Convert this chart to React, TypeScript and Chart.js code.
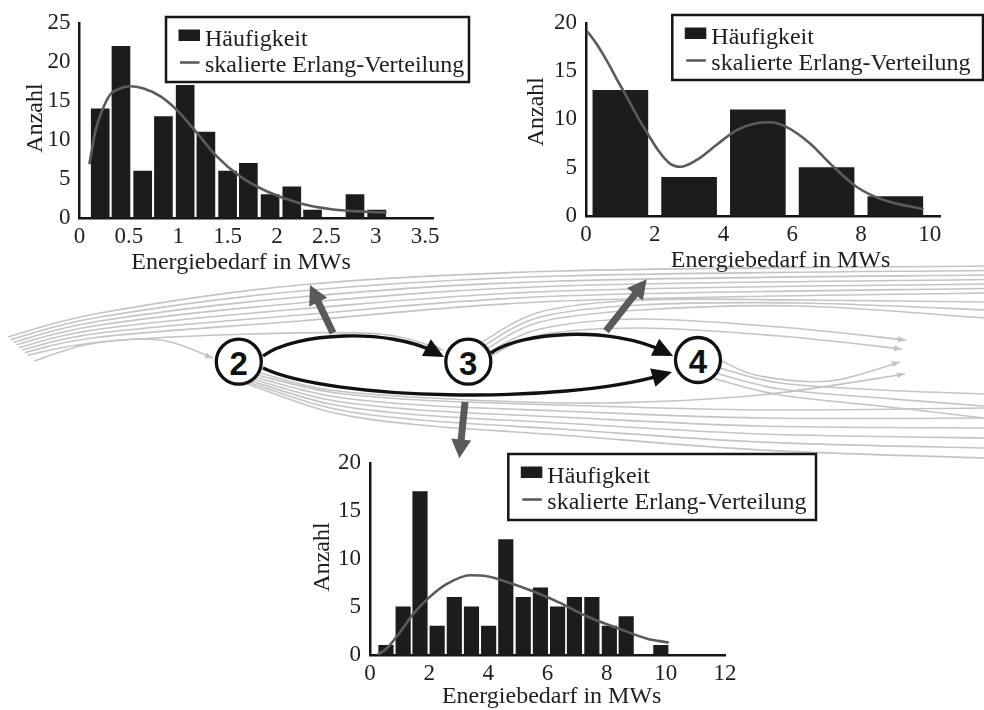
import React, { useEffect, useRef } from "react";
import { Chart, registerables } from "chart.js";

Chart.register(...registerables);

const SERIF = '"Liberation Serif", "Times New Roman", serif';
const SANS = '"Liberation Sans", Arial, sans-serif';
const INK = "#1e1e1e";
const AXIS = "#151515";
const BAR = "#1c1c1c";
const CURVE = "#5b5b5b";
const THREAD = "#c4c4c4";
const ARROW_GREY = "#5a5a5a";

const X_TITLE = "Energiebedarf in MWs";
const Y_TITLE = "Anzahl";
const BAR_LABEL = "Häufigkeit";
const CURVE_LABEL = "skalierte Erlang-Verteilung";

// Edge 2 -> 3
const binsA = [0.21, 0.42, 0.64, 0.85, 1.07, 1.28, 1.5, 1.71, 1.93, 2.15, 2.36, 2.58, 2.79, 3.01];
const countsA = [14, 22, 6, 13, 17, 11, 6, 7, 3, 4, 1, 0, 3, 1];
const curveXA = [0.1, 0.16, 0.23, 0.31, 0.41, 0.51, 0.65, 0.82, 0.99, 1.19, 1.39, 1.63, 1.9, 2.23, 2.57, 2.91, 3.11];
const curveYA = [6.9, 11.1, 13.8, 15.8, 16.6, 16.9, 16.6, 15.6, 13.8, 10.9, 7.9, 5.3, 3.4, 1.9, 1.1, 0.8, 0.7];
const xTicksA = [0, 0.5, 1, 1.5, 2, 2.5, 3, 3.5];
const yTicksA = [0, 5, 10, 15, 20, 25];

// Edge 3 -> 4
const binsB = [1, 3, 5, 7, 9];
const countsB = [13, 4, 11, 5, 2];
const curveXB = [0.04, 0.31, 0.6, 0.89, 1.19, 1.48, 1.8, 2.1, 2.45, 2.74, 3.22, 3.81, 4.39, 4.97, 5.36, 5.84, 6.52, 7.11, 7.88, 8.66, 9.82];
const curveYB = [19.1, 17.8, 16.1, 14.2, 12.3, 10.4, 8.5, 6.8, 5.4, 5.1, 5.8, 7.4, 8.9, 9.6, 9.7, 9.2, 7.5, 5.4, 3.0, 1.65, 0.7];
const xTicksB = [0, 2, 4, 6, 8, 10];
const yTicksB = [0, 5, 10, 15, 20];

// Edge 2 -> 4
const binsC = [0.54, 1.12, 1.69, 2.27, 2.85, 3.43, 4.01, 4.59, 5.18, 5.76, 6.34, 6.91, 7.5, 8.09, 8.66, 9.25, 9.83];
const countsC = [1, 5, 17, 3, 6, 5, 3, 12, 6, 7, 5, 6, 6, 3, 4, 0, 1];
const curveXC = [0.25, 0.57, 1.02, 1.47, 2.04, 2.6, 3.39, 3.96, 4.63, 5.53, 6.44, 7.34, 8.36, 9.37, 10.1];
const curveYC = [0, 0.7, 2.4, 4.3, 6.1, 7.4, 8.3, 8.2, 7.6, 6.6, 5.4, 4.0, 2.8, 1.7, 1.3];
const xTicksC = [0, 2, 4, 6, 8, 10, 12];
const yTicksC = [0, 5, 10, 15, 20];

type Box = { left: number; top: number; width: number; height: number };
type Area = { left: number; top: number; right: number; bottom: number };

type HistProps = {
  bins: number[];
  counts: number[];
  curveX: number[];
  curveY: number[];
  xTicks: number[];
  yTicks: number[];
  xMax: number;
  yMax: number;
  barPx: number;
  canvas: Box;
  area: Area;
  legend: [number, number, number, number];
  xTitle: [number, number];
  yTitle: [number, number];
};

// Draws the framed legend and both axis captions on top of the plot.
const decorPlugin = {
  id: "decor",
  afterDraw(chart: any, _args: any, opts: any) {
    const ctx: CanvasRenderingContext2D = chart.ctx;
    const datasets = chart.data.datasets;
    const barSet = datasets.find((d: any) => d.type === "bar");
    const lineSet = datasets.find((d: any) => d.type === "line");

    ctx.save();
    ctx.fillStyle = INK;
    ctx.font = `24px ${SERIF}`;
    ctx.textAlign = "center";
    ctx.textBaseline = "alphabetic";
    ctx.fillText(X_TITLE, opts.xTitle[0], opts.xTitle[1]);
    ctx.translate(opts.yTitle[0], opts.yTitle[1]);
    ctx.rotate(-Math.PI / 2);
    ctx.textBaseline = "middle";
    ctx.fillText(Y_TITLE, 0, 0);
    ctx.restore();

    const [bx, by, bw, bh] = opts.legend;
    ctx.save();
    ctx.fillStyle = "#ffffff";
    ctx.fillRect(bx, by, bw, bh);
    ctx.lineWidth = 2.5;
    ctx.strokeStyle = AXIS;
    ctx.strokeRect(bx, by, bw, bh);

    ctx.fillStyle = barSet.backgroundColor;
    ctx.fillRect(bx + 12.5, by + 12.5, 21.5, 11.5);
    ctx.strokeStyle = lineSet.borderColor;
    ctx.lineWidth = 2.6;
    ctx.beginPath();
    ctx.moveTo(bx + 14, by + 45.5);
    ctx.lineTo(bx + 33.5, by + 45.5);
    ctx.stroke();

    ctx.fillStyle = INK;
    ctx.font = `24px ${SERIF}`;
    ctx.textAlign = "left";
    ctx.textBaseline = "alphabetic";
    ctx.fillText(barSet.label, bx + 39, by + 28.5);
    ctx.fillText(lineSet.label, bx + 39, by + 55);
    ctx.restore();
  },
};

function Histogram(p: HistProps) {
  const ref = useRef<HTMLCanvasElement | null>(null);

  useEffect(() => {
    if (!ref.current) return;
    const tickFont = { family: SERIF, size: 23 };
    const chart = new Chart(ref.current, {
      type: "bar",
      data: {
        datasets: [
          {
            type: "line",
            label: CURVE_LABEL,
            data: p.curveX.map((x, i) => ({ x, y: p.curveY[i] })),
            borderColor: CURVE,
            borderWidth: 2.6,
            pointRadius: 0,
            cubicInterpolationMode: "monotone",
            fill: false,
            order: 0,
          },
          {
            type: "bar",
            label: BAR_LABEL,
            data: p.bins.map((x, i) => ({ x, y: p.counts[i] })),
            backgroundColor: BAR,
            borderWidth: 0,
            barThickness: p.barPx,
            order: 1,
          },
        ],
      } as any,
      options: {
        animation: false,
        responsive: false,
        devicePixelRatio: 1,
        layout: {
          padding: {
            left: 0,
            top: p.area.top,
            right: p.canvas.width - p.area.right,
            bottom: 0,
          },
        },
        plugins: {
          legend: { display: false },
          tooltip: { enabled: false },
          decor: { legend: p.legend, xTitle: p.xTitle, yTitle: p.yTitle },
        } as any,
        scales: {
          x: {
            type: "linear",
            min: 0,
            max: p.xMax,
            offset: false,
            grid: { display: false, drawTicks: false },
            border: { display: true, color: AXIS, width: 2.5 },
            ticks: {
              font: tickFont,
              color: INK,
              padding: 5,
              maxRotation: 0,
              autoSkip: false,
              callback: (v: any) => String(v),
            },
            afterBuildTicks: (s: any) => {
              s.ticks = p.xTicks.map((value) => ({ value }));
            },
            afterFit: (s: any) => {
              s.height = p.canvas.height - p.area.bottom;
            },
          },
          y: {
            type: "linear",
            min: 0,
            max: p.yMax,
            grid: { display: false, drawTicks: false },
            border: { display: true, color: AXIS, width: 2.5 },
            ticks: {
              font: tickFont,
              color: INK,
              padding: 9,
              callback: (v: any) => String(v),
            },
            afterBuildTicks: (s: any) => {
              s.ticks = p.yTicks.map((value) => ({ value }));
            },
            afterFit: (s: any) => {
              s.width = p.area.left;
            },
          },
        } as any,
      },
      plugins: [decorPlugin as any],
    });
    return () => chart.destroy();
  }, []);

  return (
    <canvas
      ref={ref}
      width={p.canvas.width}
      height={p.canvas.height}
      style={{
        position: "absolute",
        left: p.canvas.left,
        top: p.canvas.top,
        width: p.canvas.width,
        height: p.canvas.height,
      }}
    />
  );
}

// ---- process diagram (nodes, transitions, background flow lines) ----
type Pt = [number, number];
const N2: Pt = [238.8, 361.7];
const N3: Pt = [468.3, 361.7];
const N4: Pt = [698, 360];

function onCircle(c: Pt, r: number, deg: number): Pt {
  const a = (deg * Math.PI) / 180;
  return [c[0] + r * Math.cos(a), c[1] + r * Math.sin(a)];
}

function smooth(pts: Pt[]): string {
  let d = `M${pts[0][0]},${pts[0][1]}`;
  for (let i = 0; i < pts.length - 1; i++) {
    const p0 = pts[i - 1] || pts[i];
    const p1 = pts[i];
    const p2 = pts[i + 1];
    const p3 = pts[i + 2] || p2;
    const c1 = [p1[0] + (p2[0] - p0[0]) / 6, p1[1] + (p2[1] - p0[1]) / 6];
    const c2 = [p2[0] - (p3[0] - p1[0]) / 6, p2[1] - (p3[1] - p1[1]) / 6];
    d += ` C${c1[0]},${c1[1]} ${c2[0]},${c2[1]} ${p2[0]},${p2[1]}`;
  }
  return d;
}

function head(tip: Pt, from: Pt, len: number, wid: number): string {
  const dx = tip[0] - from[0];
  const dy = tip[1] - from[1];
  const d = Math.hypot(dx, dy);
  const ux = dx / d;
  const uy = dy / d;
  const bx = tip[0] - ux * len;
  const by = tip[1] - uy * len;
  return `${tip[0]},${tip[1]} ${bx - (uy * wid) / 2},${by + (ux * wid) / 2} ${bx + (uy * wid) / 2},${by - (ux * wid) / 2}`;
}

function back(tip: Pt, from: Pt, dist: number): Pt {
  const dx = tip[0] - from[0];
  const dy = tip[1] - from[1];
  const d = Math.hypot(dx, dy);
  return [tip[0] - (dx / d) * dist, tip[1] - (dy / d) * dist];
}

type Thread = { pts: Pt[]; arrow?: boolean };
const threads: Thread[] = [];
// fan sweeping in from the left
for (let i = 0; i < 7; i++) {
  threads.push({
    pts: [
      [8 + 2.8 * i, 337 + 2.6 * i],
      [100, 313 + 4 * i],
      [300, 285 + 6 * i],
      [560, 271 + 5 * i],
      [984, 266 + 4.5 * i],
    ],
  });
}
threads.push({ pts: [[27.6, 355.2], [100, 342], [250, 334], [380, 334], [443, 350]], arrow: true });
threads.push({ pts: [[34, 361], [90, 344], [160, 340], [213, 358]], arrow: true });
// leaving node 3 upwards to the right
threads.push({ pts: [onCircle(N3, 24, -15), [540, 335], [640, 328], [780, 336], [902, 349]], arrow: true });
threads.push({ pts: [onCircle(N3, 24, -25), [540, 329], [640, 319], [780, 327], [906, 340]], arrow: true });
for (let j = 0; j < 3; j++) {
  threads.push({
    pts: [onCircle(N3, 24, -35 - 10 * j), [540, 322 - 5 * j], [640, 310 - 5 * j], [800, 306 - 3 * j], [984, 318 - 8 * j]],
  });
}
// leaving node 2 below the lower transition
for (let k = 0; k < 6; k++) {
  threads.push({
    pts: [onCircle(N2, 23.5, 35 + 7 * k), [330, 392 + 4 * k], [420, 400 + 5 * k], [560, 405 + 6 * k], [760, 410 + 8 * k], [984, 408 + 10 * k]],
  });
}
threads.push({ pts: [onCircle(N2, 23.5, 28), [330, 390], [450, 399], [600, 403], [760, 395], [905, 374]], arrow: true });
// leaving node 4 to the right
threads.push({ pts: [onCircle(N4, 24, 3), [760, 376], [830, 381], [900, 362]], arrow: true });
for (let m = 0; m < 3; m++) {
  threads.push({ pts: [onCircle(N4, 24, 20 + 15 * m), [780, 383 + 6 * m], [880, 390 + 8 * m], [984, 394 + 12 * m]] });
}

type Arc = { start: Pt; c1: Pt; c2: Pt; tip: Pt };
const transitions: Arc[] = [
  { start: [263, 356], c1: [295, 332], c2: [390, 328], tip: [444, 357] },
  { start: [263, 368], c1: [330, 400], c2: [560, 405], tip: [672, 372] },
  { start: [491, 353], c1: [520, 332], c2: [610, 325], tip: [673, 356] },
];

const outArrows: { from: Pt; tip: Pt }[] = [
  { from: [333, 333], tip: [310, 285] },
  { from: [606, 331], tip: [646.7, 279.3] },
  { from: [465, 402], tip: [459.3, 458.3] },
];

const nodes: { c: Pt; label: string }[] = [
  { c: N2, label: "2" },
  { c: N3, label: "3" },
  { c: N4, label: "4" },
];

function Diagram() {
  return (
    <svg width={984} height={710} style={{ position: "absolute", left: 0, top: 0 }}>
      <g fill="none" stroke={THREAD} strokeWidth={1.6}>
        {threads.map((t, i) => (
          <path key={i} d={smooth(t.pts)} />
        ))}
      </g>
      <g fill={THREAD}>
        {threads
          .filter((t) => t.arrow)
          .map((t, i) => {
            const n = t.pts.length;
            return <polygon key={i} points={head(t.pts[n - 1], t.pts[n - 2], 8, 6)} />;
          })}
      </g>
      {outArrows.map((a, i) => {
        const end = back(a.tip, a.from, 14);
        return (
          <g key={i}>
            <line x1={a.from[0]} y1={a.from[1]} x2={end[0]} y2={end[1]} stroke={ARROW_GREY} strokeWidth={7} />
            <polygon points={head(a.tip, a.from, 19, 20)} fill={ARROW_GREY} />
          </g>
        );
      })}
      {transitions.map((t, i) => {
        const end = back(t.tip, t.c2, 10);
        return (
          <g key={i}>
            <path
              d={`M${t.start[0]},${t.start[1]} C${t.c1[0]},${t.c1[1]} ${t.c2[0]},${t.c2[1]} ${end[0]},${end[1]}`}
              fill="none"
              stroke="#111"
              strokeWidth={3.4}
            />
            <polygon points={head(t.tip, t.c2, 20, 19)} fill="#111" />
          </g>
        );
      })}
      {nodes.map((n, i) => (
        <g key={i}>
          <circle cx={n.c[0]} cy={n.c[1]} r={22.5} fill="#fff" stroke="#111" strokeWidth={3.3} />
          <text
            x={n.c[0]}
            y={n.c[1] + 1.5}
            textAnchor="middle"
            dominantBaseline="central"
            fontFamily={SANS}
            fontWeight="bold"
            fontSize={33}
            fill="#111"
          >
            {n.label}
          </text>
        </g>
      ))}
    </svg>
  );
}

export default function App() {
  return (
    <div
      style={{
        position: "absolute",
        left: 0,
        top: 0,
        width: 984,
        height: 710,
        background: "#fff",
        overflow: "hidden",
      }}
    >
      <Diagram />
      <Histogram
        bins={binsA}
        counts={countsA}
        curveX={curveXA}
        curveY={curveYA}
        xTicks={xTicksA}
        yTicks={yTicksA}
        xMax={3.58}
        yMax={25}
        barPx={18}
        canvas={{ left: 0, top: 0, width: 475, height: 280 }}
        area={{ left: 79.5, top: 23, right: 433, bottom: 218 }}
        legend={[166, 17, 303, 65]}
        xTitle={[241, 269]}
        yTitle={[36, 118]}
      />
      <Histogram
        bins={binsB}
        counts={countsB}
        curveX={curveXB}
        curveY={curveYB}
        xTicks={xTicksB}
        yTicks={yTicksB}
        xMax={10.3}
        yMax={20}
        barPx={55}
        canvas={{ left: 510, top: 0, width: 474, height: 280 }}
        area={{ left: 76, top: 22, right: 430, bottom: 216 }}
        legend={[162.3, 15, 310.7, 65]}
        xTitle={[270.5, 266.5]}
        yTitle={[27, 111.7]}
      />
      <Histogram
        bins={binsC}
        counts={countsC}
        curveX={curveXC}
        curveY={curveYC}
        xTicks={xTicksC}
        yTicks={yTicksC}
        xMax={12}
        yMax={20}
        barPx={14.5}
        canvas={{ left: 300, top: 440, width: 520, height: 270 }}
        area={{ left: 70, top: 22, right: 425, bottom: 215 }}
        legend={[208.3, 14, 307.7, 66]}
        xTitle={[251.7, 263.3]}
        yTitle={[23, 117]}
      />
    </div>
  );
}
